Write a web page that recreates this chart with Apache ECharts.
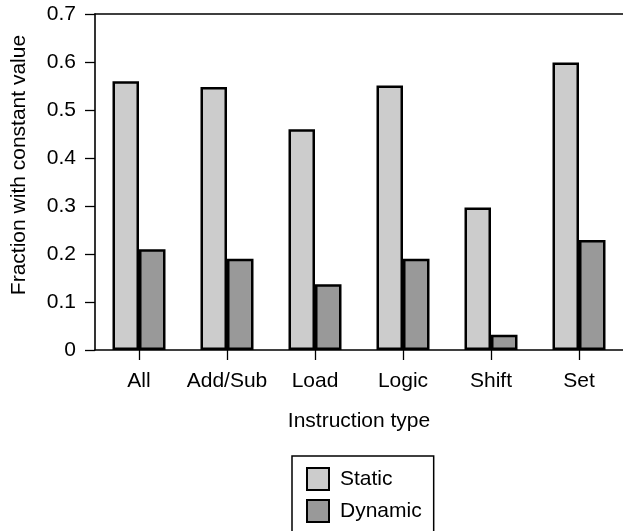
<!DOCTYPE html>
<html>
<head>
<meta charset="utf-8">
<script src="https://cdn.jsdelivr.net/npm/echarts@6/dist/echarts.min.js"></script>
<style>
html,body{margin:0;padding:0;background:#fff;}
#c{width:623px;height:531px;}
</style>
</head>
<body>
<div id="c"></div>
<script>
const categories = ['All', 'Add/Sub', 'Load', 'Logic', 'Shift', 'Set'];
const staticValues = [0.56, 0.548, 0.46, 0.551, 0.297, 0.599];
const dynamicValues = [0.21, 0.19, 0.137, 0.19, 0.032, 0.229];
const yTicks = [0, 0.1, 0.2, 0.3, 0.4, 0.5, 0.6, 0.7];
const seriesNames = ['Static', 'Dynamic'];
const xTitle = 'Instruction type';
const yTitle = 'Fraction with constant value';

const FONT = "'Liberation Sans', Arial, Helvetica, sans-serif";
const FS = 21;
const chart = echarts.init(document.getElementById('c'), null, {renderer: 'canvas'});
chart.setOption({
  animation: false,
  backgroundColor: '#fff',
  textStyle: {fontFamily: FONT, color: '#000'},
  grid: {left: 95, top: 14, width: 536, height: 336, containLabel: false},
  legend: {
    data: seriesNames,
    orient: 'vertical',
    left: 292,
    top: 456,
    height: 150,
    padding: [11, 12, 20, 14],
    itemWidth: 22,
    itemHeight: 22,
    itemGap: 8,
    borderColor: '#000',
    borderWidth: 1.5,
    icon: 'rect',
    textStyle: {fontSize: FS, color: '#000', fontFamily: FONT, padding: [0, 0, 0, 6]}
  },
  graphic: [{
    type: 'text',
    x: 19,
    y: 165,
    rotation: Math.PI / 2,
    style: {text: yTitle, x: 0, y: 0, align: 'center', verticalAlign: 'middle',
            font: FS + "px " + FONT, fill: '#000'}
  }],
  xAxis: [{
    type: 'category',
    data: categories,
    position: 'bottom',
    axisLine: {show: true, lineStyle: {color: '#000', width: 1.6}},
    axisTick: {show: true, alignWithLabel: true, length: 10, lineStyle: {color: '#000', width: 1.3}},
    axisLabel: {margin: 21, fontSize: FS, color: '#000', fontFamily: FONT, interval: 0},
    name: xTitle,
    nameLocation: 'middle',
    nameGap: 61,
    nameTextStyle: {fontSize: FS, color: '#000', fontFamily: FONT},
    splitLine: {show: false}
  }, {
    type: 'category',
    data: categories,
    position: 'top',
    axisLine: {show: true, lineStyle: {color: '#000', width: 1.6}},
    axisTick: {show: false},
    axisLabel: {show: false},
    splitLine: {show: false}
  }],
  yAxis: {
    type: 'value',
    min: 0,
    max: 0.7,
    interval: 0.1,
    axisLine: {show: true, lineStyle: {color: '#000', width: 1.6}},
    axisTick: {show: true, length: 10, lineStyle: {color: '#000', width: 1.3}},
    axisLabel: {
      margin: 19, fontSize: FS, color: '#000', fontFamily: FONT,
      formatter: function (v) {
        let best = yTicks.reduce((a, b) => Math.abs(b - v) < Math.abs(a - v) ? b : a);
        return best === 0 ? '0' : best.toFixed(1);
      }
    },
    splitLine: {show: false}
  },
  series: [{
    name: seriesNames[0],
    type: 'bar',
    data: staticValues,
    barWidth: 26.5,
    barGap: '0%',
    itemStyle: {color: '#cccccc', borderColor: '#000', borderWidth: 2.5}
  }, {
    name: seriesNames[1],
    type: 'bar',
    data: dynamicValues,
    barWidth: 26.5,
    barGap: '0%',
    itemStyle: {color: '#999999', borderColor: '#000', borderWidth: 2.5}
  }]
});
</script>
</body>
</html>
